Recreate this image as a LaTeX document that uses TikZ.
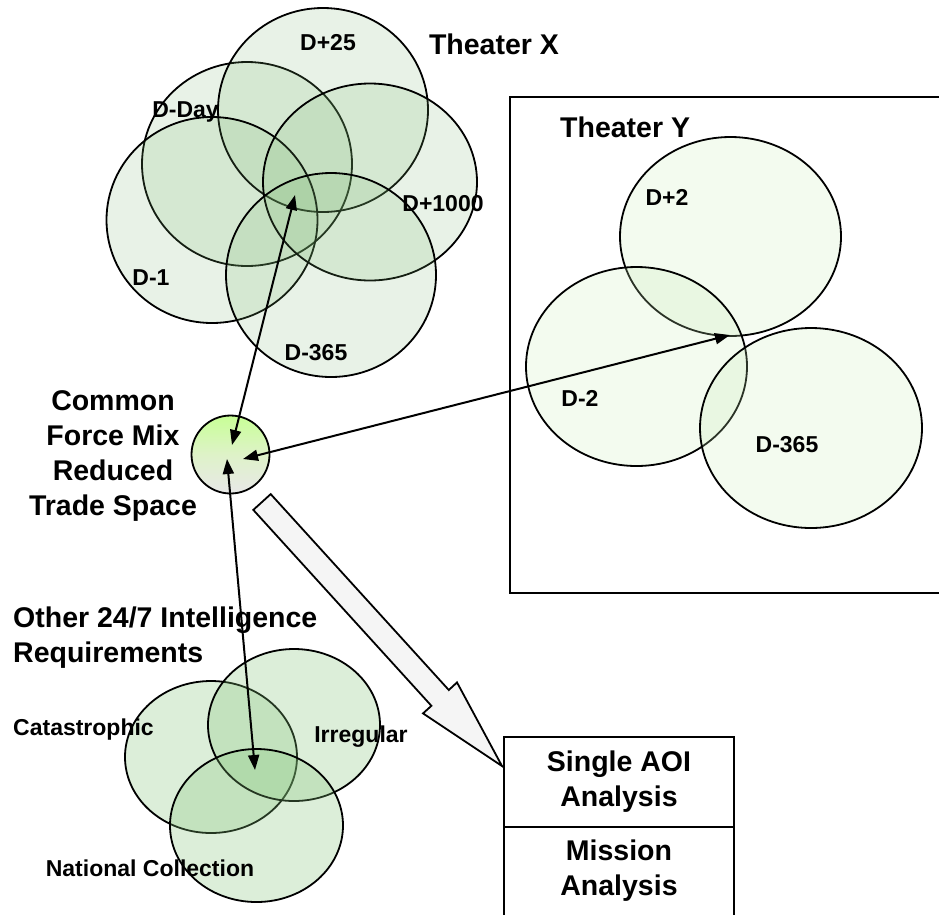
\documentclass[tikz,border=0pt]{standalone}
\usepackage{fontspec}
\setmainfont{Liberation Sans}
\usetikzlibrary{shapes.geometric,arrows.meta}
\definecolor{gx}{RGB}{120,180,110}
\definecolor{gy}{RGB}{200,235,180}
\definecolor{gz}{RGB}{130,195,120}
\definecolor{hubtop}{RGB}{200,255,150}
\definecolor{hubbot}{RGB}{232,232,232}
\tikzset{
  ring/.style={ellipse, draw=black, line width=1.8pt, inner sep=0pt},
  ringx/.style={ring, fill=gx, fill opacity=0.17},
  ringy/.style={ring, fill=gy, fill opacity=0.22},
  ringz/.style={ring, fill=gz, fill opacity=0.28},
  lbl/.style={inner sep=0pt, font=\fontsize{23}{27}\selectfont\bfseries},
  ttl/.style={inner sep=0pt, font=\fontsize{28.5}{35}\selectfont\bfseries},
  arr/.style={line width=2pt, {Triangle[length=15pt,width=11pt]}-{Triangle[length=15pt,width=11pt]}},
  frame/.style={line width=2pt},
}
\begin{document}
\begin{tikzpicture}[x=1pt,y=-1pt]
\useasboundingbox (0,0) rectangle (939,914);
% Theater X
\node[ringx, minimum width=210, minimum height=204] (xday) at (247,164) {};
\node[ringx, minimum width=210, minimum height=204] (x25) at (323,110) {};
\node[ringx, minimum width=211, minimum height=206] (xm1) at (212,220) {};
\node[ringx, minimum width=214, minimum height=197] (x1000) at (370,182) {};
\node[ringx, minimum width=210, minimum height=204] (x365) at (331,275) {};
\node[lbl] (lx25) at (328,43) {D+25};
\node[lbl] (lxday) at (185.5,112) {D-Day};
\node[lbl] (lx1000) at (443,204) {D+1000};
\node[lbl] (lxm1) at (151,278) {D-1};
\node[lbl] (lx365) at (316,353) {D-365};
\node[ttl] (tx) at (494,44) {Theater X};
% Theater Y
\draw[frame] (945,97) -- (510,97) -- (510,593) -- (945,593);
\node[ttl, anchor=west] (ty) at (560,127) {Theater Y};
\node[ringy, minimum width=221, minimum height=199] (y2) at (730.5,236.5) {};
\node[ringy, minimum width=221, minimum height=199] (ym2) at (636.5,366.5) {};
\node[ringy, minimum width=222, minimum height=200] (y365) at (811,428) {};
\node[lbl] (ly2) at (667,197) {D+2};
\node[lbl] (lym2) at (580,398) {D-2};
\node[lbl] (ly365) at (787,445) {D-365};
% Other requirements
\node[ringz, minimum width=172, minimum height=152] (zc) at (211,757) {};
\node[ringz, minimum width=172, minimum height=152] (zi) at (294,725) {};
\node[ringz, minimum width=173, minimum height=153] (zn) at (256.5,825.5) {};
\node[ttl, anchor=west, align=left] (tz) at (13,637.5) {Other 24/7 Intelligence\\Requirements};
\node[lbl, anchor=west] (lzc) at (13,730) {Catastrophic};
\node[lbl] (lzi) at (361,737) {Irregular};
\node[lbl] (lzn) at (150,868) {National Collection};
% hub
\node[circle, draw=black, line width=1.8pt, minimum size=78, inner sep=0pt,
      top color=hubtop, bottom color=hubbot, middle color={rgb,255:red,222;green,242;blue,200}] (hub) at (230.5,454.5) {};
\node[ttl, align=center] (thub) at (113,455.5) {Common\\Force Mix\\Reduced\\Trade Space};
% block arrow
\draw[line width=1.8pt, fill=gray!8] (253.3,509.9) -- (431.4,705.8) -- (423.0,713.4) -- (502,766) -- (457.0,682.4) -- (448.8,690.0) -- (270.7,494.1) -- cycle;
% analysis box
\draw[frame] (504,925) -- (504,737) -- (734,737) -- (734,925);
\draw[frame] (504,827) -- (734,827);
\node[ttl, align=center] (tsingle) at (619,782) {Single AOI\\Analysis};
\node[ttl, align=center] (tmission) at (619,870.5) {Mission\\Analysis};
% connectors
\coordinate (hx) at (232,445);
\coordinate (hy) at (243,459);
\coordinate (hz) at (227,459);
\coordinate (cx) at (295,195);
\coordinate (cy) at (730,335);
\coordinate (cz) at (255,770);
\draw[arr] (hx) -- (cx);
\draw[arr] (hy) -- (cy);
\draw[arr] (hz) -- (cz);
\end{tikzpicture}
\end{document}
